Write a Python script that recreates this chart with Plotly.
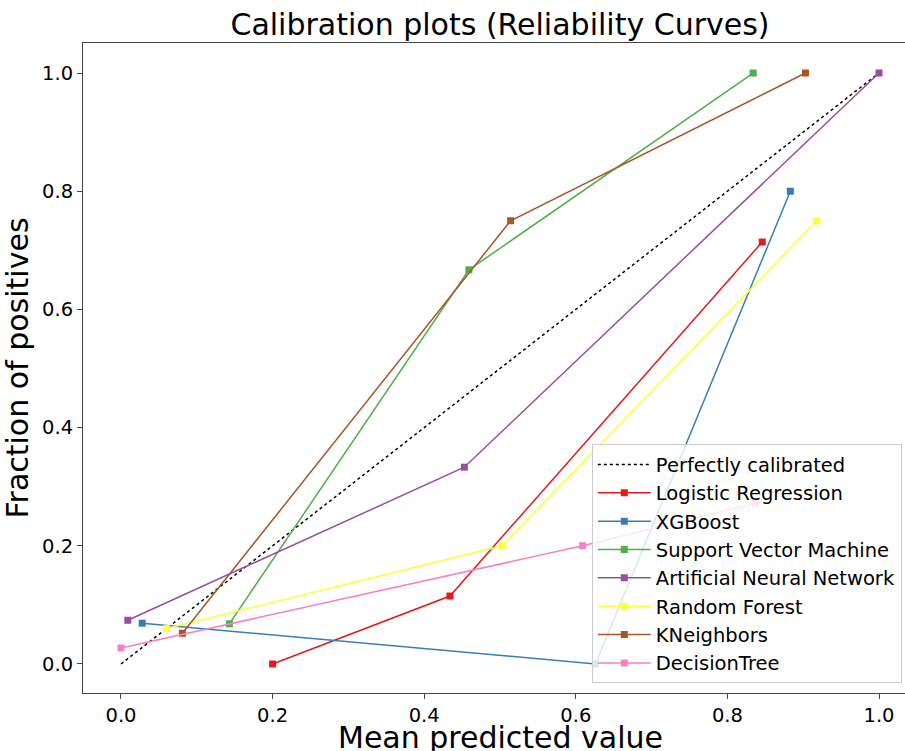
import plotly.graph_objects as go

# Data
perfect_x = [0.0, 1.0]
perfect_y = [0.0, 1.0]

lr_x = [0.200, 0.434, 0.846]
lr_y = [0.000, 0.115, 0.714]

xgb_x = [0.028, 0.626, 0.883]
xgb_y = [0.069, 0.000, 0.800]

svm_x = [0.143, 0.459, 0.834]
svm_y = [0.068, 0.667, 1.000]

ann_x = [0.009, 0.453, 1.000]
ann_y = [0.074, 0.333, 1.000]

rf_x = [0.060, 0.503, 0.918]
rf_y = [0.060, 0.200, 0.750]

knn_x = [0.081, 0.514, 0.903]
knn_y = [0.052, 0.750, 1.000]

dt_x = [0.000, 0.609, 0.837]
dt_y = [0.027, 0.200, 0.272]

names = ["Logistic Regression", "XGBoost", "Support Vector Machine",
         "Artificial Neural Network", "Random Forest", "KNeighbors", "DecisionTree"]
colors = ["#e41a1c", "#377eb8", "#4daf4a", "#984ea3", "#ffff33", "#a65628", "#f781bf"]
series = [(lr_x, lr_y), (xgb_x, xgb_y), (svm_x, svm_y), (ann_x, ann_y),
          (rf_x, rf_y), (knn_x, knn_y), (dt_x, dt_y)]

ticks = [0.0, 0.2, 0.4, 0.6, 0.8, 1.0]
tick_text = ["0.0", "0.2", "0.4", "0.6", "0.8", "1.0"]

fig = go.Figure()
fig.add_trace(go.Scatter(x=perfect_x, y=perfect_y, mode="lines",
                         line=dict(color="black", width=1.5, dash="dot"),
                         name="Perfectly calibrated"))
for (xs, ys), n, c in zip(series, names, colors):
    fig.add_trace(go.Scatter(x=xs, y=ys, mode="lines+markers", name=n,
                             line=dict(color=c, width=1.5),
                             marker=dict(symbol="square", size=7, color=c)))

font_family = "DejaVu Sans"
fig.update_layout(
    width=905, height=751,
    margin=dict(l=83, r=0, t=43, b=58),
    paper_bgcolor="white", plot_bgcolor="white",
    font=dict(family=font_family, color="black"),
    title=dict(text="Calibration plots (Reliability Curves)",
               font=dict(size=30, family=font_family, color="black"),
               x=500/905, xanchor="center", y=1-24/751, yanchor="middle"),
    showlegend=True,
    legend=dict(x=0.619, y=0.015, xanchor="left", yanchor="bottom",
                bgcolor="rgba(255,255,255,0.8)", bordercolor="#cccccc", borderwidth=1,
                font=dict(size=19.5, family=font_family, color="black"),
                itemwidth=53, tracegroupgap=0),
    annotations=[dict(text="Mean predicted value", xref="paper", yref="paper",
                      x=(500-83)/822, y=-(737-693)/650, xanchor="center", yanchor="middle",
                      showarrow=False, font=dict(size=30, family=font_family, color="black"))],
)
fig.update_xaxes(range=[-0.0501, 1.0343], tickvals=ticks, ticktext=tick_text,
                 showgrid=False, zeroline=False,
                 showline=True, linecolor="#444444", linewidth=1, mirror=True,
                 ticks="outside", ticklen=5, tickcolor="#444444",
                 tickfont=dict(size=19.5, family=font_family))
fig.update_yaxes(range=[-0.0491, 1.0508], tickvals=ticks, ticktext=tick_text,
                 showgrid=False, zeroline=False,
                 showline=True, linecolor="#444444", linewidth=1, mirror=False,
                 ticks="outside", ticklen=5, tickcolor="#444444",
                 tickfont=dict(size=19.5, family=font_family),
                 title=dict(text="Fraction of positives", font=dict(size=30, family=font_family), standoff=5))

fig.write_html("out.html")
